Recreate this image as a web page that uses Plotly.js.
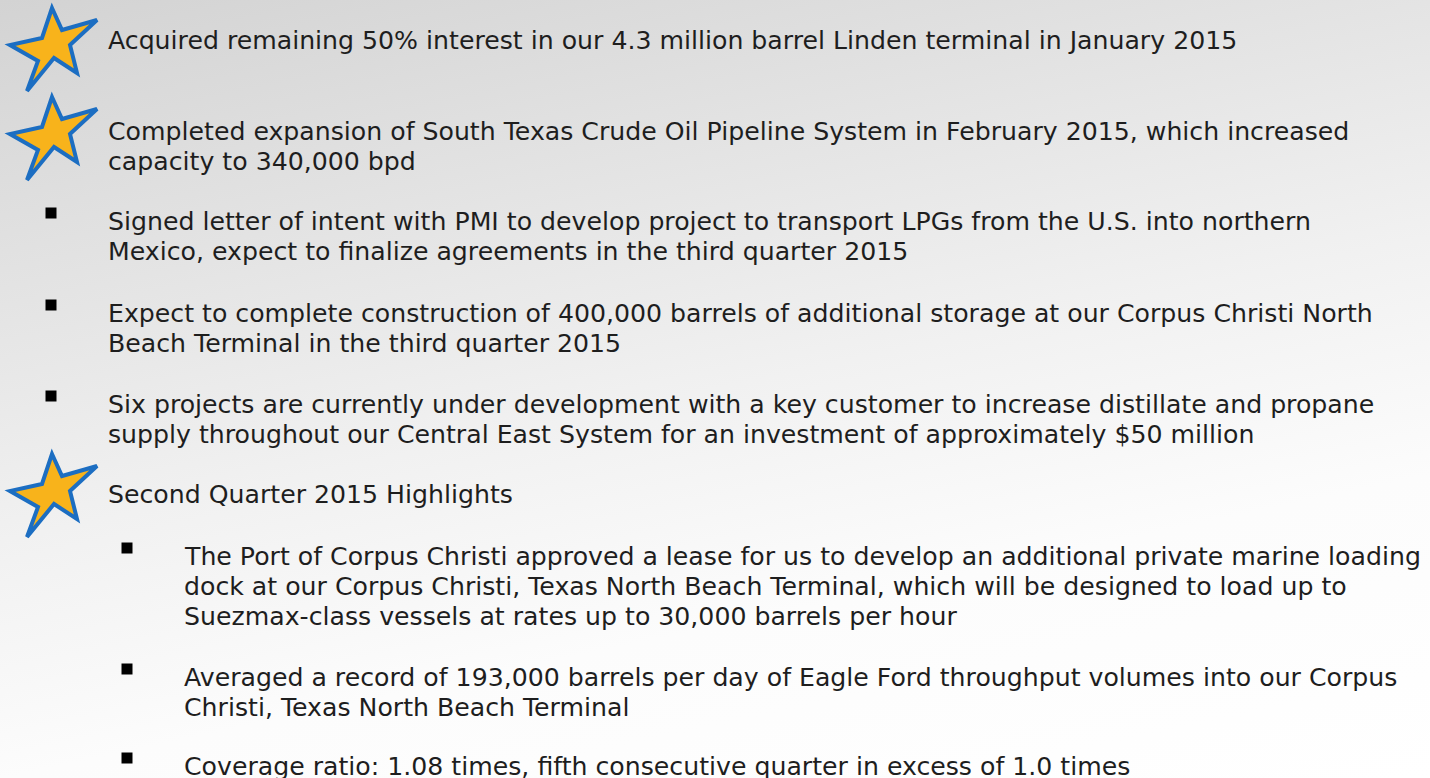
<!DOCTYPE html>
<html>
<head>
<meta charset="utf-8">
<script src="https://cdn.plot.ly/plotly-3.0.1.min.js"></script>
<style>
  html, body { margin: 0; padding: 0; width: 1430px; height: 778px; overflow: hidden; }
  #chart { width: 1430px; height: 778px;
    background: linear-gradient(168deg, #d3d3d3 0%, #e2e2e2 25%, #f1f1f1 50%, #fcfcfc 72%, #ffffff 100%); }
</style>
</head>
<body>
<div id="chart"></div>
<script>
// ---- content (data) ----
const itemLines = [
  ["Acquired remaining 50% interest in our 4.3 million barrel Linden terminal in January 2015"],
  ["Completed expansion of South Texas Crude Oil Pipeline System in February 2015, which increased",
   "capacity to 340,000 bpd"],
  ["Signed letter of intent with PMI to develop project to transport LPGs from the U.S. into northern",
   "Mexico, expect to finalize agreements in the third quarter 2015"],
  ["Expect to complete construction of 400,000 barrels of additional storage at our Corpus Christi North",
   "Beach Terminal in the third quarter 2015"],
  ["Six projects are currently under development with a key customer to increase distillate and propane",
   "supply throughout our Central East System for an investment of approximately $50 million"],
  ["Second Quarter 2015 Highlights"],
  ["The Port of Corpus Christi approved a lease for us to develop an additional private marine loading",
   "dock at our Corpus Christi, Texas North Beach Terminal, which will be designed to load up to",
   "Suezmax-class vessels at rates up to 30,000 barrels per hour"],
  ["Averaged a record of 193,000 barrels per day of Eagle Ford throughput volumes into our Corpus",
   "Christi, Texas North Beach Terminal"],
  ["Coverage ratio: 1.08 times, fifth consecutive quarter in excess of 1.0 times"]
];
const itemLevel  = [1, 1, 1, 1, 1, 1, 2, 2, 2];
const itemMarker = ["star", "star", "square", "square", "square", "star", "square", "square", "square"];

// ---- layout (positions / styles) ----
const W = 1430, H = 778;
const itemTop = [40, 131, 221, 313, 404, 494, 556, 677, 766];   // first-line y (px)
const lineStep = 30;
const textX   = {1: 106, 2: 182};
const bulletX = {1: 51, 2: 127};
const starX = 52;
const starDy = [8, 6, 0, 0, 0, 0, 0, 0, 0];
const bulletDy = -8;
const fontFamily = "'DejaVu Sans', Verdana, sans-serif";
const fontSize = 25.2;
const textColor = "#1e1e1e";
// star outline template (relative offsets, px)
const starTpl = [[0,-40],[10,-18],[45,-28],[18,-3],[25,25],[2,10],[-25,43],[-14,13],[-42,-3],[-10,-10]];

const annotations = [];
const shapes = [];
const bx = [], by = [];
itemLines.forEach((lines, i) => {
  const lvl = itemLevel[i];
  lines.forEach((t, j) => {
    annotations.push({
      x: textX[lvl], y: itemTop[i] + j * lineStep, xref: 'x', yref: 'y',
      text: t, showarrow: false, xanchor: 'left', yanchor: 'middle',
      font: {family: fontFamily, size: fontSize, color: textColor}
    });
  });
  if (itemMarker[i] === 'star') {
    const cx = starX, cy = itemTop[i] + starDy[i];
    const path = starTpl.map((p, k) => (k ? 'L' : 'M') + (cx + p[0]) + ',' + (cy + p[1])).join(' ') + ' Z';
    shapes.push({type: 'path', xref: 'x', yref: 'y', path: path,
      fillcolor: '#f8b31b', line: {color: '#1c6ec2', width: 4}});
  } else {
    bx.push(bulletX[lvl]); by.push(itemTop[i] + bulletDy);
  }
});

const traces = [{
  type: 'scatter', mode: 'markers', x: bx, y: by, hoverinfo: 'skip',
  marker: {symbol: 'square', size: 11, color: '#000000'}
}];

const layout = {
  width: W, height: H,
  margin: {l: 0, r: 0, t: 0, b: 0, pad: 0},
  paper_bgcolor: 'rgba(0,0,0,0)', plot_bgcolor: 'rgba(0,0,0,0)',
  showlegend: false,
  xaxis: {range: [0, W], visible: false, fixedrange: true},
  yaxis: {range: [H, 0], visible: false, fixedrange: true},
  annotations: annotations,
  shapes: shapes
};
Plotly.newPlot('chart', traces, layout, {staticPlot: true, displayModeBar: false});
</script>
</body>
</html>
